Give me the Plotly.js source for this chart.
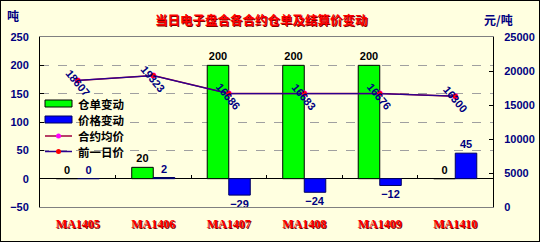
<!DOCTYPE html>
<html><head><meta charset="utf-8">
<script src="https://cdn.plot.ly/plotly-3.0.1.min.js"></script>
<style>
html,body{margin:0;padding:0;background:#fff;}
#frame{position:absolute;left:0;top:0;width:538px;height:240px;border:1px solid #000;background:#FFFFE0;}
#chart{position:absolute;left:0;top:0;width:542px;height:247px;}
</style></head><body>
<div id="frame"></div><div id="chart"></div>
<script>
const categories = ['MA1405','MA1406','MA1407','MA1408','MA1409','MA1410'];
const warrantChange = [0, 20, 200, 200, 200, 0];
const priceChange = [0, 2, -29, -24, -12, 45];
const avgPrice = [18607, 19323, 16686, 16683, 16676, 16300];
const prevPrice = [18607, 19323, 16686, 16683, 16676, 16300];
const leftTicks = [-50, 0, 50, 100, 150, 200, 250];
const rightTicks = [0, 5000, 10000, 15000, 20000, 25000];
const seriesNames = ['仓单变动', '价格变动', '合约均价', '前一日价'];

const cjk = '"Noto Sans CJK SC", "Liberation Sans", sans-serif';
const navy = '#000080';
const styles = [
  {kind:'bar', fill:'#00FF00', edge:'#000'},
  {kind:'bar', fill:'#0000FF', edge:'#000060'},
  {kind:'line', line:'#A0003C', marker:'#FF00FF'},
  {kind:'line', line:'#2A0090', marker:'#FF0000'}
];

const traces = [
  {type:'bar', name:seriesNames[0], x:categories, y:warrantChange,
   marker:{color:styles[0].fill, line:{color:styles[0].edge, width:1}},
   texttemplate:'%{y}', textposition:'outside', constraintext:'none', cliponaxis:false,
   textfont:{family:'Liberation Sans', size:11, color:'#000', weight:'bold'}},
  {type:'bar', name:seriesNames[1], x:categories, y:priceChange,
   marker:{color:styles[1].fill, line:{color:styles[1].edge, width:1}},
   texttemplate:'%{y}', textposition:'outside', constraintext:'none', cliponaxis:false,
   textfont:{family:'Liberation Sans', size:11, color:navy, weight:'bold'}},
  {type:'scatter', mode:'lines+markers', name:seriesNames[2], x:categories, y:avgPrice,
   xaxis:'x2', yaxis:'y2',
   line:{color:styles[2].line, width:1.5}, marker:{color:styles[2].marker, size:6, symbol:'circle'}},
  {type:'scatter', mode:'lines+markers', name:seriesNames[3], x:categories, y:prevPrice,
   xaxis:'x2', yaxis:'y2',
   line:{color:styles[3].line, width:1.2}, marker:{color:styles[3].marker, size:5, symbol:'circle'}}
];

const px = v => (v - 40) / 453;
const py = v => (207 - v) / 170;

const annotations = [
  {text:'当日电子盘合各合约仓单及结算价变动', xref:'paper', yref:'paper', x:px(261), y:py(20),
   showarrow:false, xanchor:'center', yanchor:'middle',
   font:{family:cjk, size:12.5, color:'#FF0000', weight:'bold', shadow:'1px 1px 0px #800000'}},
  {text:'吨', xref:'paper', yref:'paper', x:px(13), y:py(15),
   showarrow:false, xanchor:'center', yanchor:'middle',
   font:{family:cjk, size:12, color:navy, weight:'bold'}},
  {text:'元/吨', xref:'paper', yref:'paper', x:px(498), y:py(20),
   showarrow:false, xanchor:'center', yanchor:'middle',
   font:{family:cjk, size:12, color:navy, weight:'bold'}}
];
for (let i = 0; i < categories.length; i++) {
  annotations.push({text:String(avgPrice[i]), xref:'x2', yref:'y2', x:categories[i], y:avgPrice[i],
    showarrow:false, textangle:50, yshift:-3, xanchor:'center', yanchor:'middle',
    font:{family:'Liberation Sans', size:11, color:navy, weight:'bold'}});
}

// legend drawn with annotations/shapes for the reference's tight spacing
const shapes = [];
const legendRows = [103.5, 119.5, 136, 151.5];
for (let i = 0; i < seriesNames.length; i++) {
  const yc = legendRows[i];
  const s = styles[i];
  annotations.push({text:seriesNames[i], xref:'paper', yref:'paper', x:px(76), y:py(yc),
    showarrow:false, xanchor:'left', yanchor:'middle',
    font:{family:cjk, size:11.5, color:'#000', weight:'bold'}});
  if (s.kind === 'bar') {
    shapes.push({type:'rect', xref:'paper', yref:'paper', x0:px(45), x1:px(72), y0:py(yc-3.5), y1:py(yc+3.5),
      fillcolor:s.fill, line:{color:s.edge, width:1}});
  } else {
    shapes.push({type:'line', xref:'paper', yref:'paper', x0:px(45), x1:px(72), y0:py(yc), y1:py(yc),
      line:{color:s.line, width:1.5}});
    shapes.push({type:'circle', xref:'paper', yref:'paper', xsizemode:'pixel', ysizemode:'pixel',
      xanchor:px(58.5), yanchor:py(yc), x0:-2.5, x1:2.5, y0:-2.5, y1:2.5,
      fillcolor:s.marker, line:{color:s.marker, width:0}});
  }
}

const layout = {
  width:542, height:247,
  margin:{l:40, r:49, t:37, b:40},
  paper_bgcolor:'rgba(0,0,0,0)', plot_bgcolor:'#FFFFE0',
  barmode:'group', bargap:0.43, bargroupgap:0,
  showlegend:false,
  xaxis:{type:'category', categoryarray:categories, range:[-0.5,5.5],
    showline:true, linecolor:'#808080', linewidth:1, mirror:true,
    ticks:'', showgrid:false, zeroline:false, ticklabelstandoff:6,
    tickfont:{family:'Liberation Serif', size:12, color:'#FF0000', weight:'bold', shadow:'1px 1px 0px #700000'}},
  xaxis2:{type:'category', categoryarray:categories, range:[-0.5,5.5], overlaying:'x',
    anchor:'free', position:1/6, showline:false, showticklabels:false,
    ticks:'inside', tickson:'boundaries', ticklen:4, tickcolor:'#000', showgrid:false, zeroline:false},
  yaxis:{range:[-50,250], tickvals:leftTicks, showline:true, linecolor:'#000', linewidth:1,
    ticks:'inside', ticklen:4, tickcolor:'#000',
    showgrid:true, gridcolor:'#A0A0A0', griddash:'dash', gridwidth:1,
    zeroline:true, zerolinecolor:'#000', zerolinewidth:1, ticklabelstandoff:8,
    tickfont:{family:'Liberation Sans', size:11, color:navy, weight:'bold'}},
  yaxis2:{range:[0,25000], tickvals:rightTicks, tickformat:'d', overlaying:'y', side:'right', anchor:'x',
    showline:true, linecolor:'#000', linewidth:1, ticks:'inside', ticklen:4, tickcolor:'#000',
    showgrid:false, zeroline:false, ticklabelstandoff:8,
    tickfont:{family:'Liberation Sans', size:11, color:navy, weight:'bold'}},
  annotations:annotations,
  shapes:shapes
};

Plotly.newPlot('chart', traces, layout, {displayModeBar:false, staticPlot:true});
</script>
</body></html>
